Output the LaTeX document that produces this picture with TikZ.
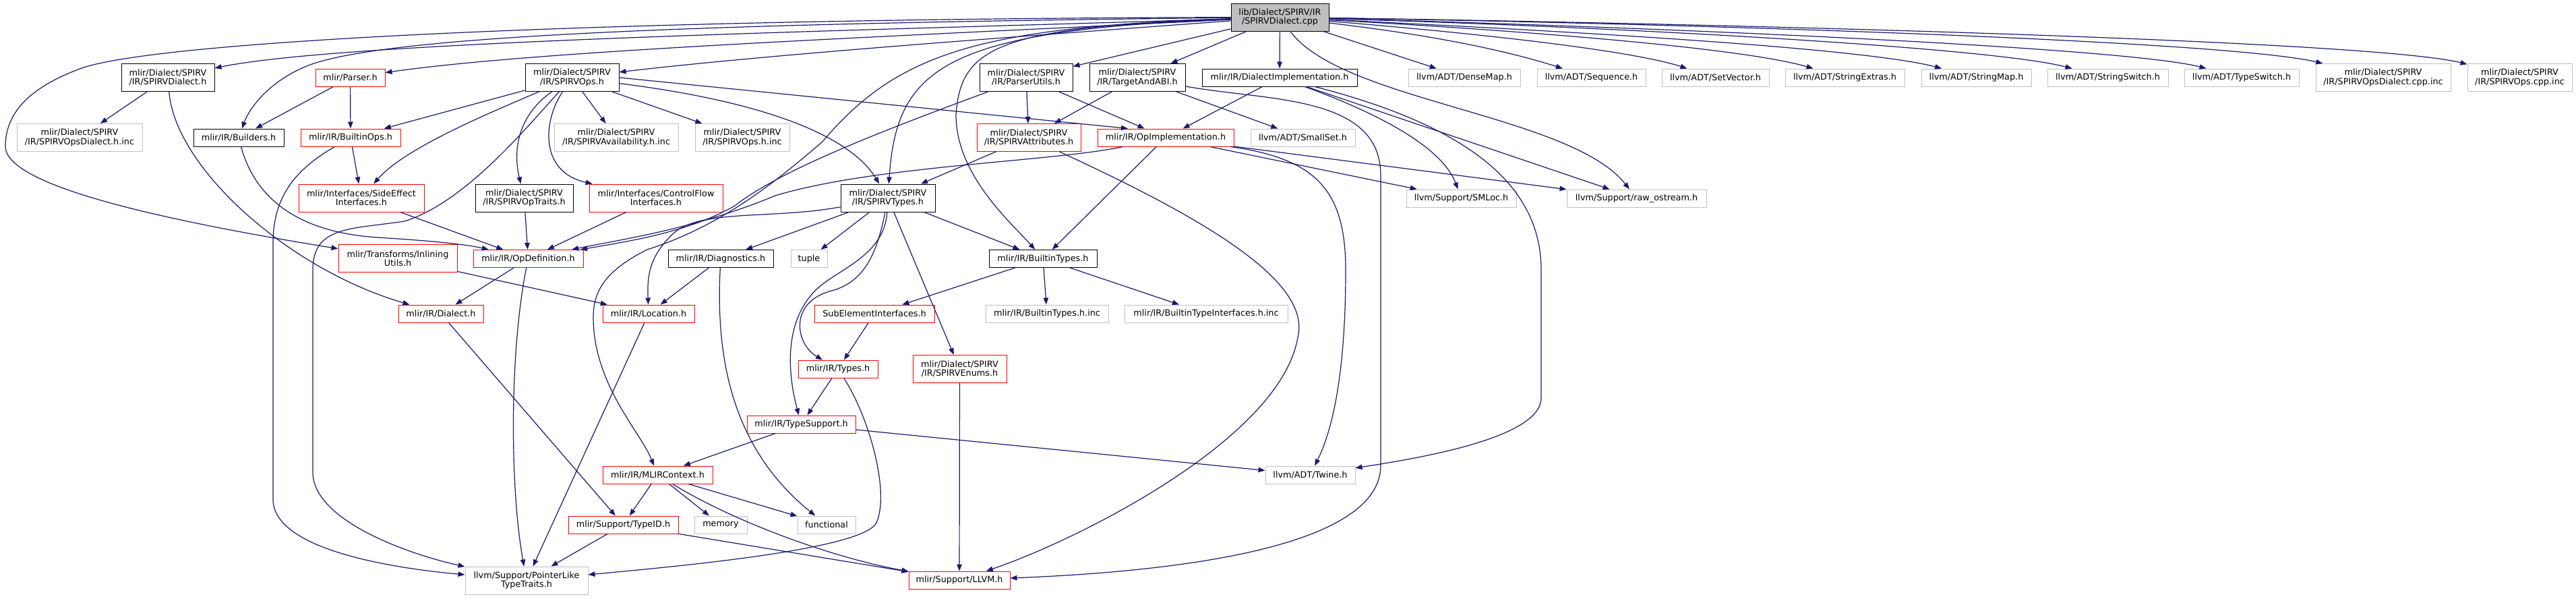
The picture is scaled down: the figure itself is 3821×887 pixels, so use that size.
\documentclass[tikz,border=0pt]{standalone}
\usepackage{fontspec}
\setmainfont{DejaVu Sans}
\usetikzlibrary{arrows.meta}
\definecolor{edgeblue}{RGB}{25,25,112}
\definecolor{boxgray}{RGB}{191,191,191}
\begin{document}
\begin{tikzpicture}[x=1pt,y=-1pt,>={Triangle[length=10pt,width=7.5pt]},
  hfile/.style={draw,line width=1pt,inner sep=0pt,align=center,font=\fontsize{12.8}{13.4}\selectfont},
  one/.style={minimum height=26pt},
  two/.style={minimum height=41pt},
  docfile/.style={hfile,draw=black},
  cutfile/.style={hfile,draw=red},
  extfile/.style={hfile,draw=boxgray},
  rootfile/.style={hfile,draw=black,fill=boxgray},
  incl/.style={->,draw=edgeblue,line width=1.2pt}]
\useasboundingbox (0,0) rectangle (3821,887);
\node[rootfile,two,minimum width=145pt] (root) at (1898.5,25.5) {lib/Dialect/SPIRV/IR\\/SPIRVDialect.cpp};
\node[docfile,two,minimum width=138pt] (spvdialect) at (249,115) {mlir/Dialect/SPIRV\\/IR/SPIRVDialect.h};
\node[cutfile,one,minimum width=103pt] (parser) at (519.5,115) {mlir/Parser.h};
\node[docfile,two,minimum width=139pt] (spvops) at (848.5,115) {mlir/Dialect/SPIRV\\/IR/SPIRVOps.h};
\node[docfile,two,minimum width=138pt] (parserutils) at (1522,115) {mlir/Dialect/SPIRV\\/IR/ParserUtils.h};
\node[docfile,two,minimum width=142pt] (targetabi) at (1687,115) {mlir/Dialect/SPIRV\\/IR/TargetAndABI.h};
\node[docfile,one,minimum width=230pt] (dialectimpl) at (1898,115) {mlir/IR/DialectImplementation.h};
\node[extfile,one,minimum width=166pt] (densemap) at (2172,115) {llvm/ADT/DenseMap.h};
\node[extfile,one,minimum width=161pt] (sequence) at (2360.5,115) {llvm/ADT/Sequence.h};
\node[extfile,one,minimum width=159pt] (setvector) at (2544.5,115) {llvm/ADT/SetVector.h};
\node[extfile,one,minimum width=177pt] (stringextras) at (2736.5,115) {llvm/ADT/StringExtras.h};
\node[extfile,one,minimum width=163pt] (stringmap) at (2931.5,115) {llvm/ADT/StringMap.h};
\node[extfile,one,minimum width=179pt] (stringswitch) at (3126.5,115) {llvm/ADT/StringSwitch.h};
\node[extfile,one,minimum width=170pt] (typeswitch) at (3325,115) {llvm/ADT/TypeSwitch.h};
\node[extfile,two,minimum width=200pt] (opsdialectcppinc) at (3535,115) {mlir/Dialect/SPIRV\\/IR/SPIRVOpsDialect.cpp.inc};
\node[extfile,two,minimum width=155pt] (opscppinc) at (3737.5,115) {mlir/Dialect/SPIRV\\/IR/SPIRVOps.cpp.inc};
\node[extfile,two,minimum width=186pt] (opsdialecthinc) at (118,204) {mlir/Dialect/SPIRV\\/IR/SPIRVOpsDialect.h.inc};
\node[docfile,one,minimum width=134pt] (builders) at (354,204) {mlir/IR/Builders.h};
\node[cutfile,one,minimum width=148pt] (builtinops) at (520,204) {mlir/IR/BuiltinOps.h};
\node[extfile,two,minimum width=184pt] (availability) at (914,204) {mlir/Dialect/SPIRV\\/IR/SPIRVAvailability.h.inc};
\node[extfile,two,minimum width=140pt] (opshinc) at (1101,204) {mlir/Dialect/SPIRV\\/IR/SPIRVOps.h.inc};
\node[cutfile,two,minimum width=154pt] (spvattrs) at (1526,204) {mlir/Dialect/SPIRV\\/IR/SPIRVAttributes.h};
\node[cutfile,one,minimum width=202pt] (opimpl) at (1729,204) {mlir/IR/OpImplementation.h};
\node[extfile,one,minimum width=155pt] (smallset) at (1932.5,204) {llvm/ADT/SmallSet.h};
\node[cutfile,two,minimum width=186pt] (sideeffect) at (536,293.5) {mlir/Interfaces/SideEffect\\Interfaces.h};
\node[docfile,two,minimum width=145pt] (optraits) at (777.5,293.5) {mlir/Dialect/SPIRV\\/IR/SPIRVOpTraits.h};
\node[cutfile,two,minimum width=198pt] (controlflow) at (973,293.5) {mlir/Interfaces/ControlFlow\\Interfaces.h};
\node[docfile,two,minimum width=140pt] (spvtypes) at (1317,293.5) {mlir/Dialect/SPIRV\\/IR/SPIRVTypes.h};
\node[extfile,one,minimum width=163pt] (smloc) at (2167.5,294) {llvm/Support/SMLoc.h};
\node[extfile,one,minimum width=207pt] (rawostream) at (2427.5,294) {llvm/Support/raw\_ostream.h};
\node[cutfile,two,minimum width=176pt] (inlining) at (590,383) {mlir/Transforms/Inlining\\Utils.h};
\node[cutfile,one,minimum width=163pt] (opdef) at (783.5,383.5) {mlir/IR/OpDefinition.h};
\node[docfile,one,minimum width=156pt] (diagnostics) at (1069,383.5) {mlir/IR/Diagnostics.h};
\node[extfile,one,minimum width=54pt] (tuple) at (1200,383.5) {tuple};
\node[docfile,one,minimum width=160pt] (builtintypes) at (1547,383.5) {mlir/IR/BuiltinTypes.h};
\node[cutfile,one,minimum width=126pt] (dialect) at (654,465) {mlir/IR/Dialect.h};
\node[cutfile,one,minimum width=136pt] (location) at (962,465) {mlir/IR/Location.h};
\node[cutfile,one,minimum width=178pt] (subelement) at (1297,465) {SubElementInterfaces.h};
\node[extfile,one,minimum width=182pt] (builtintypesinc) at (1553,465) {mlir/IR/BuiltinTypes.h.inc};
\node[extfile,one,minimum width=242pt] (typeinterfacesinc) at (1789,465) {mlir/IR/BuiltinTypeInterfaces.h.inc};
\node[cutfile,one,minimum width=118pt] (types) at (1243,547) {mlir/IR/Types.h};
\node[cutfile,two,minimum width=139pt] (enums) at (1423.5,547) {mlir/Dialect/SPIRV\\/IR/SPIRVEnums.h};
\node[cutfile,one,minimum width=161pt] (typesupport) at (1188.5,629) {mlir/IR/TypeSupport.h};
\node[cutfile,one,minimum width=163pt] (mlircontext) at (975.5,704) {mlir/IR/MLIRContext.h};
\node[extfile,one,minimum width=133pt] (twine) at (1943.5,704) {llvm/ADT/Twine.h};
\node[cutfile,one,minimum width=163pt] (typeid) at (924.5,778) {mlir/Support/TypeID.h};
\node[extfile,one,minimum width=78pt] (memory) at (1069,778) {memory};
\node[extfile,one,minimum width=86pt] (functional) at (1226,778) {functional};
\node[extfile,two,minimum width=182pt] (pointerlike) at (781,860.5) {llvm/Support/PointerLike\\TypeTraits.h};
\node[cutfile,one,minimum width=150pt] (llvm) at (1423,860) {mlir/Support/LLVM.h};
\draw[incl] (root) .. controls (1300,45) and (520,60) .. (spvdialect);
\draw[incl] (root) .. controls (900,28) and (250,60) .. (124,100) .. controls (40,130) and (8,170) .. (8,217) .. controls (8,270) and (200,320) .. (inlining);
\draw[incl] (root) .. controls (1000,35) and (560,55) .. (455,98) .. controls (400,120) and (370,160) .. (builders);
\draw[incl] (root) .. controls (1300,55) and (800,75) .. (parser);
\draw[incl] (root) .. controls (1500,55) and (1150,80) .. (spvops);
\draw[incl] (root) .. controls (1400,45) and (1330,100) .. (spvtypes);
\draw[incl] (root) .. controls (1480,40) and (1425,70) .. (1418,170) .. controls (1418,260) and (1500,330) .. (builtintypes);
\draw[incl] (root) .. controls (1450,40) and (1330,80) .. (1220,210) .. controls (1150,270) and (1070,335) .. (960,370) .. controls (900,400) and (880,430) .. (880,470) .. controls (880,570) and (950,640) .. (mlircontext);
\draw[incl] (root) -- (parserutils);
\draw[incl] (root) -- (targetabi);
\draw[incl] (root) -- (dialectimpl);
\draw[incl] (root) -- (densemap);
\draw[incl] (root) .. controls (2150,55) and (2250,80) .. (sequence);
\draw[incl] (root) .. controls (2200,50) and (2420,75) .. (setvector);
\draw[incl] (root) .. controls (2250,45) and (2580,70) .. (stringextras);
\draw[incl] (root) .. controls (2300,45) and (2760,70) .. (stringmap);
\draw[incl] (root) .. controls (2400,40) and (2950,70) .. (stringswitch);
\draw[incl] (root) .. controls (2450,40) and (3150,70) .. (typeswitch);
\draw[incl] (root) .. controls (2500,35) and (3300,60) .. (opsdialectcppinc);
\draw[incl] (root) .. controls (2550,35) and (3520,60) .. (opscppinc);
\draw[incl] (root) .. controls (1990,150) and (2330,170) .. (rawostream);
\draw[incl] (spvdialect) -- (opsdialecthinc);
\draw[incl] (spvdialect) .. controls (260,250) and (430,400) .. (dialect);
\draw[incl] (parser) -- (builders);
\draw[incl] (parser) -- (builtinops);
\draw[incl] (spvops) -- (builtinops);
\draw[incl] (spvops) .. controls (720,170) and (600,220) .. (sideeffect);
\draw[incl] (spvops) .. controls (770,170) and (760,220) .. (optraits);
\draw[incl] (spvops) .. controls (805,180) and (800,255) .. (controlflow);
\draw[incl] (spvops) -- (availability);
\draw[incl] (spvops) -- (opshinc);
\draw[incl] (spvops) .. controls (1130,150) and (1260,200) .. (spvtypes);
\draw[incl] (spvops.east) -- ([xshift=-56pt]opimpl.north);
\draw[incl] (spvops) .. controls (780,190) and (690,300) .. (600,328) .. controls (520,340) and (464,335) .. (464,400) -- (464,700) .. controls (464,770) and (600,820) .. (pointerlike);
\draw[incl] (builders) .. controls (380,300) and (450,345) .. (560,352) .. controls (640,357) and (690,362) .. (opdef);
\draw[incl] (builtinops) -- (sideeffect);
\draw[incl] (builtinops) .. controls (440,250) and (405,290) .. (405,360) -- (405,740) .. controls (405,810) and (560,840) .. (pointerlike);
\draw[incl] (sideeffect) -- (opdef);
\draw[incl] (optraits) -- (opdef);
\draw[incl] (controlflow) -- (opdef);
\draw[incl] (opdef) -- (dialect);
\draw[incl] (opdef) .. controls (756,520) and (756,720) .. (pointerlike);
\draw[incl] (inlining) -- (location);
\draw[incl] (parserutils) -- (spvattrs);
\draw[incl] (parserutils) -- (opimpl);
\draw[incl] (parserutils) .. controls (1320,190) and (1160,250) .. (1090,305) .. controls (1020,345) and (930,358) .. (opdef);
\draw[incl] (targetabi) -- (spvattrs);
\draw[incl] (targetabi) -- (smallset);
\draw[incl] (targetabi) .. controls (1880,150) and (2048,140) .. (2048,260) -- (2048,690) .. controls (2048,800) and (1800,845) .. (llvm);
\draw[incl] (dialectimpl) -- (opimpl);
\draw[incl] (dialectimpl) .. controls (2050,170) and (2140,220) .. (smloc);
\draw[incl] (dialectimpl) -- (rawostream);
\draw[incl] (dialectimpl) .. controls (2150,180) and (2286,260) .. (2286,400) -- (2286,590) .. controls (2286,650) and (2100,680) .. (twine);
\draw[incl] (opimpl) -- (builtintypes);
\draw[incl] (opimpl) -- (smloc);
\draw[incl] (opimpl) -- (rawostream);
\draw[incl] (opimpl) .. controls (1950,235) and (1996,280) .. (1996,400) .. controls (1996,560) and (1975,640) .. (twine);
\draw[incl] (opimpl) .. controls (1560,240) and (1300,245) .. (1150,290) .. controls (1030,340) and (920,355) .. (opdef);
\draw[incl] (spvattrs) -- (spvtypes);
\draw[incl] (spvattrs) .. controls (1800,330) and (1945,420) .. (1925,500) .. controls (1900,650) and (1600,800) .. (llvm);
\draw[incl] (spvtypes) -- (diagnostics);
\draw[incl] (spvtypes) -- (tuple);
\draw[incl] (spvtypes) -- (builtintypes);
\draw[incl] (spvtypes) -- (enums);
\draw[incl] (spvtypes) .. controls (1150,325) and (1040,310) .. (1000,345) .. controls (962,380) and (960,410) .. (location);
\draw[incl] (spvtypes) .. controls (1300,380) and (1280,420) .. (1230,432) .. controls (1170,450) and (1180,510) .. (types);
\draw[incl] (spvtypes) .. controls (1312,380) and (1240,400) .. (1210,430) .. controls (1160,480) and (1170,560) .. (typesupport);
\draw[incl] (diagnostics) -- (location);
\draw[incl] (diagnostics) .. controls (1062,520) and (1080,660) .. (functional);
\draw[incl] (builtintypes) -- (subelement);
\draw[incl] (builtintypes) -- (builtintypesinc);
\draw[incl] (builtintypes) -- (typeinterfacesinc);
\draw[incl] (subelement) -- (types);
\draw[incl] (types) -- (typesupport);
\draw[incl] (types) .. controls (1290,620) and (1320,730) .. (1300,775) .. controls (1280,815) and (1000,840) .. (pointerlike);
\draw[incl] (typesupport) -- (mlircontext);
\draw[incl] (typesupport) -- (twine);
\draw[incl] (enums) -- (llvm);
\draw[incl] (mlircontext) -- (typeid);
\draw[incl] (mlircontext) -- (memory);
\draw[incl] (mlircontext) -- (functional);
\draw[incl] (mlircontext) .. controls (1100,780) and (1250,830) .. (llvm);
\draw[incl] (typeid) -- (pointerlike);
\draw[incl] (typeid) -- (llvm);
\draw[incl] (dialect) -- (typeid);
\draw[incl] (location) -- (pointerlike);
\end{tikzpicture}
\end{document}
